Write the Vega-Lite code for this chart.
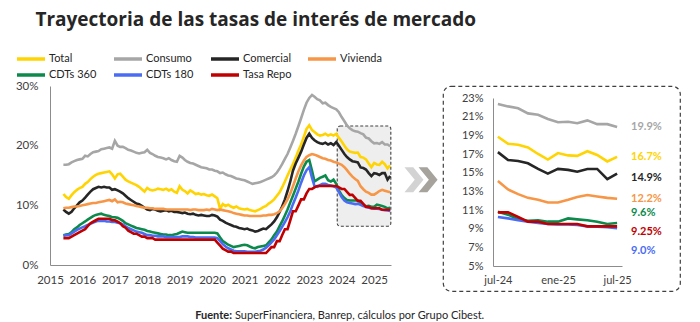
{
"$schema": "https://vega.github.io/schema/vega-lite/v6.json",
"background": "white",
"padding": {"left": 15, "top": 11, "right": 5, "bottom": 0},
"title": {"text": "Trayectoria de las tasas de interés de mercado", "anchor": "start", "font": "Open Sans", "fontSize": 19, "fontWeight": "bold", "color": "#262626", "dx": 20, "offset": 20},
"datasets": {
"tasas": [
{"fecha":"2015-06-01","Total":11.9,"Consumo":16.8,"Comercial":9.3,"Vivienda":9.5,"CDTs 360":5.0,"CDTs 180":4.9,"Tasa Repo":4.5},
{"fecha":"2015-07-01","Total":11.4,"Consumo":16.8,"Comercial":8.9,"Vivienda":9.6,"CDTs 360":5.1,"CDTs 180":5.0,"Tasa Repo":4.5},
{"fecha":"2015-08-01","Total":11.1,"Consumo":16.9,"Comercial":8.6,"Vivienda":9.6,"CDTs 360":5.2,"CDTs 180":5.0,"Tasa Repo":4.5},
{"fecha":"2015-09-01","Total":11.7,"Consumo":17.2,"Comercial":8.9,"Vivienda":9.7,"CDTs 360":5.5,"CDTs 180":5.3,"Tasa Repo":4.75},
{"fecha":"2015-10-01","Total":12.2,"Consumo":17.4,"Comercial":9.5,"Vivienda":9.8,"CDTs 360":6.0,"CDTs 180":5.6,"Tasa Repo":5.0},
{"fecha":"2015-11-01","Total":12.6,"Consumo":17.6,"Comercial":10.0,"Vivienda":9.8,"CDTs 360":6.3,"CDTs 180":5.9,"Tasa Repo":5.25},
{"fecha":"2015-12-01","Total":12.9,"Consumo":17.7,"Comercial":10.5,"Vivienda":9.9,"CDTs 360":6.7,"CDTs 180":6.1,"Tasa Repo":5.5},
{"fecha":"2016-01-01","Total":13.1,"Consumo":17.8,"Comercial":10.8,"Vivienda":10.0,"CDTs 360":7.0,"CDTs 180":6.3,"Tasa Repo":5.75},
{"fecha":"2016-02-01","Total":13.6,"Consumo":18.3,"Comercial":11.3,"Vivienda":10.1,"CDTs 360":7.3,"CDTs 180":6.5,"Tasa Repo":6.0},
{"fecha":"2016-03-01","Total":13.9,"Consumo":18.2,"Comercial":11.8,"Vivienda":10.2,"CDTs 360":7.6,"CDTs 180":6.7,"Tasa Repo":6.5},
{"fecha":"2016-04-01","Total":14.4,"Consumo":18.6,"Comercial":12.3,"Vivienda":10.3,"CDTs 360":7.9,"CDTs 180":6.9,"Tasa Repo":7.0},
{"fecha":"2016-05-01","Total":14.8,"Consumo":18.9,"Comercial":12.7,"Vivienda":10.4,"CDTs 360":8.2,"CDTs 180":7.1,"Tasa Repo":7.25},
{"fecha":"2016-06-01","Total":15.1,"Consumo":19.0,"Comercial":12.9,"Vivienda":10.4,"CDTs 360":8.4,"CDTs 180":7.3,"Tasa Repo":7.5},
{"fecha":"2016-07-01","Total":15.3,"Consumo":19.1,"Comercial":13.1,"Vivienda":10.5,"CDTs 360":8.5,"CDTs 180":7.4,"Tasa Repo":7.75},
{"fecha":"2016-08-01","Total":15.4,"Consumo":19.4,"Comercial":13.0,"Vivienda":10.6,"CDTs 360":8.6,"CDTs 180":7.4,"Tasa Repo":7.75},
{"fecha":"2016-09-01","Total":15.5,"Consumo":19.5,"Comercial":13.1,"Vivienda":10.7,"CDTs 360":8.4,"CDTs 180":7.4,"Tasa Repo":7.75},
{"fecha":"2016-10-01","Total":15.6,"Consumo":19.6,"Comercial":13.0,"Vivienda":10.8,"CDTs 360":8.3,"CDTs 180":7.3,"Tasa Repo":7.75},
{"fecha":"2016-11-01","Total":15.7,"Consumo":19.7,"Comercial":13.0,"Vivienda":10.9,"CDTs 360":8.2,"CDTs 180":7.3,"Tasa Repo":7.75},
{"fecha":"2016-12-01","Total":15.2,"Consumo":19.5,"Comercial":12.6,"Vivienda":10.7,"CDTs 360":8.0,"CDTs 180":7.2,"Tasa Repo":7.5},
{"fecha":"2017-01-01","Total":14.5,"Consumo":20.8,"Comercial":12.7,"Vivienda":11.0,"CDTs 360":8.0,"CDTs 180":7.2,"Tasa Repo":7.5},
{"fecha":"2017-02-01","Total":15.2,"Consumo":20.0,"Comercial":12.5,"Vivienda":10.5,"CDTs 360":7.9,"CDTs 180":7.1,"Tasa Repo":7.25},
{"fecha":"2017-03-01","Total":15.3,"Consumo":19.8,"Comercial":12.3,"Vivienda":10.6,"CDTs 360":7.7,"CDTs 180":7.0,"Tasa Repo":7.0},
{"fecha":"2017-04-01","Total":14.8,"Consumo":19.8,"Comercial":12.0,"Vivienda":10.5,"CDTs 360":7.4,"CDTs 180":6.8,"Tasa Repo":6.5},
{"fecha":"2017-05-01","Total":14.3,"Consumo":19.6,"Comercial":11.6,"Vivienda":10.3,"CDTs 360":7.0,"CDTs 180":6.5,"Tasa Repo":6.25},
{"fecha":"2017-06-01","Total":14.0,"Consumo":19.3,"Comercial":11.2,"Vivienda":10.2,"CDTs 360":6.8,"CDTs 180":6.2,"Tasa Repo":5.75},
{"fecha":"2017-07-01","Total":13.8,"Consumo":19.2,"Comercial":10.9,"Vivienda":10.1,"CDTs 360":6.6,"CDTs 180":6.0,"Tasa Repo":5.5},
{"fecha":"2017-08-01","Total":13.6,"Consumo":19.0,"Comercial":10.6,"Vivienda":10.0,"CDTs 360":6.4,"CDTs 180":5.8,"Tasa Repo":5.25},
{"fecha":"2017-09-01","Total":13.4,"Consumo":18.8,"Comercial":10.3,"Vivienda":9.9,"CDTs 360":6.2,"CDTs 180":5.6,"Tasa Repo":5.25},
{"fecha":"2017-10-01","Total":13.1,"Consumo":18.7,"Comercial":10.2,"Vivienda":9.8,"CDTs 360":6.1,"CDTs 180":5.5,"Tasa Repo":5.0},
{"fecha":"2017-11-01","Total":12.7,"Consumo":18.8,"Comercial":9.9,"Vivienda":9.7,"CDTs 360":6.0,"CDTs 180":5.4,"Tasa Repo":4.75},
{"fecha":"2017-12-01","Total":12.3,"Consumo":18.9,"Comercial":9.6,"Vivienda":9.6,"CDTs 360":5.9,"CDTs 180":5.2,"Tasa Repo":4.75},
{"fecha":"2018-01-01","Total":12.9,"Consumo":19.3,"Comercial":9.3,"Vivienda":9.6,"CDTs 360":5.7,"CDTs 180":5.0,"Tasa Repo":4.5},
{"fecha":"2018-02-01","Total":12.6,"Consumo":18.8,"Comercial":9.2,"Vivienda":9.5,"CDTs 360":5.6,"CDTs 180":5.0,"Tasa Repo":4.5},
{"fecha":"2018-03-01","Total":12.5,"Consumo":18.6,"Comercial":9.4,"Vivienda":9.5,"CDTs 360":5.5,"CDTs 180":4.9,"Tasa Repo":4.5},
{"fecha":"2018-04-01","Total":12.6,"Consumo":18.3,"Comercial":9.3,"Vivienda":9.4,"CDTs 360":5.4,"CDTs 180":4.9,"Tasa Repo":4.25},
{"fecha":"2018-05-01","Total":12.8,"Consumo":18.1,"Comercial":9.1,"Vivienda":9.4,"CDTs 360":5.3,"CDTs 180":4.8,"Tasa Repo":4.25},
{"fecha":"2018-06-01","Total":12.7,"Consumo":18.0,"Comercial":9.0,"Vivienda":9.4,"CDTs 360":5.2,"CDTs 180":4.8,"Tasa Repo":4.25},
{"fecha":"2018-07-01","Total":12.6,"Consumo":17.9,"Comercial":9.1,"Vivienda":9.4,"CDTs 360":5.1,"CDTs 180":4.8,"Tasa Repo":4.25},
{"fecha":"2018-08-01","Total":12.8,"Consumo":17.7,"Comercial":9.2,"Vivienda":9.3,"CDTs 360":5.1,"CDTs 180":4.7,"Tasa Repo":4.25},
{"fecha":"2018-09-01","Total":12.5,"Consumo":17.9,"Comercial":9.0,"Vivienda":9.3,"CDTs 360":5.0,"CDTs 180":4.7,"Tasa Repo":4.25},
{"fecha":"2018-10-01","Total":12.7,"Consumo":17.6,"Comercial":9.1,"Vivienda":9.3,"CDTs 360":5.0,"CDTs 180":4.7,"Tasa Repo":4.25},
{"fecha":"2018-11-01","Total":12.3,"Consumo":17.4,"Comercial":8.9,"Vivienda":9.3,"CDTs 360":5.1,"CDTs 180":4.7,"Tasa Repo":4.25},
{"fecha":"2018-12-01","Total":12.1,"Consumo":17.3,"Comercial":8.9,"Vivienda":9.3,"CDTs 360":5.2,"CDTs 180":4.7,"Tasa Repo":4.25},
{"fecha":"2019-01-01","Total":13.2,"Consumo":18.3,"Comercial":8.8,"Vivienda":9.3,"CDTs 360":5.4,"CDTs 180":4.7,"Tasa Repo":4.25},
{"fecha":"2019-02-01","Total":12.6,"Consumo":18.0,"Comercial":8.7,"Vivienda":9.3,"CDTs 360":5.6,"CDTs 180":4.8,"Tasa Repo":4.25},
{"fecha":"2019-03-01","Total":12.4,"Consumo":17.6,"Comercial":8.8,"Vivienda":9.3,"CDTs 360":5.5,"CDTs 180":4.8,"Tasa Repo":4.25},
{"fecha":"2019-04-01","Total":12.0,"Consumo":17.3,"Comercial":8.6,"Vivienda":9.3,"CDTs 360":5.4,"CDTs 180":4.8,"Tasa Repo":4.25},
{"fecha":"2019-05-01","Total":12.5,"Consumo":17.1,"Comercial":8.5,"Vivienda":9.2,"CDTs 360":5.4,"CDTs 180":4.7,"Tasa Repo":4.25},
{"fecha":"2019-06-01","Total":12.2,"Consumo":17.0,"Comercial":8.6,"Vivienda":9.3,"CDTs 360":5.4,"CDTs 180":4.7,"Tasa Repo":4.25},
{"fecha":"2019-07-01","Total":11.9,"Consumo":16.8,"Comercial":8.4,"Vivienda":9.3,"CDTs 360":5.4,"CDTs 180":4.6,"Tasa Repo":4.25},
{"fecha":"2019-08-01","Total":12.0,"Consumo":16.6,"Comercial":8.3,"Vivienda":9.2,"CDTs 360":5.4,"CDTs 180":4.6,"Tasa Repo":4.25},
{"fecha":"2019-09-01","Total":11.8,"Consumo":16.4,"Comercial":8.4,"Vivienda":9.2,"CDTs 360":5.4,"CDTs 180":4.6,"Tasa Repo":4.25},
{"fecha":"2019-10-01","Total":11.9,"Consumo":16.3,"Comercial":8.3,"Vivienda":9.2,"CDTs 360":5.4,"CDTs 180":4.6,"Tasa Repo":4.25},
{"fecha":"2019-11-01","Total":11.7,"Consumo":16.2,"Comercial":8.2,"Vivienda":9.3,"CDTs 360":5.4,"CDTs 180":4.6,"Tasa Repo":4.25},
{"fecha":"2019-12-01","Total":11.6,"Consumo":16.0,"Comercial":8.2,"Vivienda":9.2,"CDTs 360":5.4,"CDTs 180":4.6,"Tasa Repo":4.25},
{"fecha":"2020-01-01","Total":11.8,"Consumo":16.0,"Comercial":8.4,"Vivienda":9.4,"CDTs 360":5.4,"CDTs 180":4.6,"Tasa Repo":4.25},
{"fecha":"2020-02-01","Total":11.5,"Consumo":15.8,"Comercial":8.3,"Vivienda":9.3,"CDTs 360":5.4,"CDTs 180":4.6,"Tasa Repo":4.25},
{"fecha":"2020-03-01","Total":11.2,"Consumo":15.7,"Comercial":8.1,"Vivienda":9.2,"CDTs 360":5.3,"CDTs 180":4.5,"Tasa Repo":3.75},
{"fecha":"2020-04-01","Total":9.4,"Consumo":15.4,"Comercial":7.6,"Vivienda":9.3,"CDTs 360":4.6,"CDTs 180":4.0,"Tasa Repo":3.25},
{"fecha":"2020-05-01","Total":10.2,"Consumo":15.5,"Comercial":7.4,"Vivienda":9.2,"CDTs 360":4.0,"CDTs 180":3.5,"Tasa Repo":2.75},
{"fecha":"2020-06-01","Total":9.9,"Consumo":15.2,"Comercial":7.1,"Vivienda":9.1,"CDTs 360":3.7,"CDTs 180":3.1,"Tasa Repo":2.5},
{"fecha":"2020-07-01","Total":10.1,"Consumo":15.0,"Comercial":6.9,"Vivienda":9.0,"CDTs 360":3.4,"CDTs 180":2.8,"Tasa Repo":2.25},
{"fecha":"2020-08-01","Total":9.8,"Consumo":14.9,"Comercial":6.7,"Vivienda":8.9,"CDTs 360":3.2,"CDTs 180":2.6,"Tasa Repo":2.25},
{"fecha":"2020-09-01","Total":9.6,"Consumo":14.7,"Comercial":6.5,"Vivienda":8.7,"CDTs 360":3.0,"CDTs 180":2.4,"Tasa Repo":2.0},
{"fecha":"2020-10-01","Total":9.8,"Consumo":14.5,"Comercial":6.4,"Vivienda":8.6,"CDTs 360":3.1,"CDTs 180":2.3,"Tasa Repo":2.0},
{"fecha":"2020-11-01","Total":9.5,"Consumo":14.4,"Comercial":6.2,"Vivienda":8.5,"CDTs 360":3.2,"CDTs 180":2.3,"Tasa Repo":2.0},
{"fecha":"2020-12-01","Total":9.4,"Consumo":14.3,"Comercial":6.1,"Vivienda":8.4,"CDTs 360":3.3,"CDTs 180":2.3,"Tasa Repo":2.0},
{"fecha":"2021-01-01","Total":9.3,"Consumo":14.2,"Comercial":6.0,"Vivienda":8.3,"CDTs 360":3.4,"CDTs 180":2.3,"Tasa Repo":2.0},
{"fecha":"2021-02-01","Total":9.4,"Consumo":14.0,"Comercial":6.1,"Vivienda":8.3,"CDTs 360":3.3,"CDTs 180":2.2,"Tasa Repo":2.0},
{"fecha":"2021-03-01","Total":9.2,"Consumo":13.8,"Comercial":5.9,"Vivienda":8.2,"CDTs 360":3.1,"CDTs 180":2.2,"Tasa Repo":2.0},
{"fecha":"2021-04-01","Total":9.1,"Consumo":13.6,"Comercial":5.8,"Vivienda":8.2,"CDTs 360":2.9,"CDTs 180":2.2,"Tasa Repo":2.0},
{"fecha":"2021-05-01","Total":9.0,"Consumo":13.7,"Comercial":5.6,"Vivienda":8.2,"CDTs 360":2.8,"CDTs 180":2.2,"Tasa Repo":2.0},
{"fecha":"2021-06-01","Total":9.2,"Consumo":13.8,"Comercial":5.7,"Vivienda":8.2,"CDTs 360":3.0,"CDTs 180":2.3,"Tasa Repo":2.0},
{"fecha":"2021-07-01","Total":9.4,"Consumo":13.9,"Comercial":5.9,"Vivienda":8.2,"CDTs 360":3.1,"CDTs 180":2.4,"Tasa Repo":2.0},
{"fecha":"2021-08-01","Total":9.7,"Consumo":14.1,"Comercial":6.1,"Vivienda":8.3,"CDTs 360":3.2,"CDTs 180":2.6,"Tasa Repo":2.0},
{"fecha":"2021-09-01","Total":9.9,"Consumo":14.3,"Comercial":6.0,"Vivienda":8.3,"CDTs 360":3.3,"CDTs 180":2.9,"Tasa Repo":2.0},
{"fecha":"2021-10-01","Total":10.3,"Consumo":14.5,"Comercial":6.4,"Vivienda":8.4,"CDTs 360":3.8,"CDTs 180":3.3,"Tasa Repo":2.5},
{"fecha":"2021-11-01","Total":10.6,"Consumo":14.7,"Comercial":6.8,"Vivienda":8.4,"CDTs 360":4.3,"CDTs 180":3.8,"Tasa Repo":3.0},
{"fecha":"2021-12-01","Total":11.0,"Consumo":15.0,"Comercial":7.3,"Vivienda":8.5,"CDTs 360":5.0,"CDTs 180":4.3,"Tasa Repo":3.0},
{"fecha":"2022-01-01","Total":11.6,"Consumo":15.5,"Comercial":8.0,"Vivienda":8.7,"CDTs 360":5.6,"CDTs 180":5.0,"Tasa Repo":4.0},
{"fecha":"2022-02-01","Total":12.2,"Consumo":16.2,"Comercial":8.9,"Vivienda":9.0,"CDTs 360":6.5,"CDTs 180":5.7,"Tasa Repo":4.0},
{"fecha":"2022-03-01","Total":13.0,"Consumo":16.9,"Comercial":9.8,"Vivienda":9.5,"CDTs 360":7.3,"CDTs 180":6.4,"Tasa Repo":5.0},
{"fecha":"2022-04-01","Total":14.0,"Consumo":17.8,"Comercial":11.0,"Vivienda":10.2,"CDTs 360":8.3,"CDTs 180":7.2,"Tasa Repo":6.0},
{"fecha":"2022-05-01","Total":15.0,"Consumo":18.6,"Comercial":12.4,"Vivienda":11.0,"CDTs 360":9.3,"CDTs 180":8.0,"Tasa Repo":6.0},
{"fecha":"2022-06-01","Total":16.0,"Consumo":19.7,"Comercial":14.0,"Vivienda":12.0,"CDTs 360":10.5,"CDTs 180":9.0,"Tasa Repo":7.5},
{"fecha":"2022-07-01","Total":16.9,"Consumo":20.8,"Comercial":15.8,"Vivienda":13.2,"CDTs 360":11.6,"CDTs 180":10.2,"Tasa Repo":9.0},
{"fecha":"2022-08-01","Total":18.0,"Consumo":22.0,"Comercial":17.0,"Vivienda":14.5,"CDTs 360":12.8,"CDTs 180":11.3,"Tasa Repo":9.0},
{"fecha":"2022-09-01","Total":19.2,"Consumo":23.3,"Comercial":18.0,"Vivienda":15.7,"CDTs 360":14.0,"CDTs 180":12.5,"Tasa Repo":10.0},
{"fecha":"2022-10-01","Total":20.2,"Consumo":24.6,"Comercial":19.0,"Vivienda":16.7,"CDTs 360":15.3,"CDTs 180":13.8,"Tasa Repo":11.0},
{"fecha":"2022-11-01","Total":21.5,"Consumo":26.0,"Comercial":20.2,"Vivienda":17.5,"CDTs 360":16.5,"CDTs 180":15.0,"Tasa Repo":11.0},
{"fecha":"2022-12-01","Total":22.8,"Consumo":27.2,"Comercial":21.3,"Vivienda":18.1,"CDTs 360":17.3,"CDTs 180":15.9,"Tasa Repo":12.0},
{"fecha":"2023-01-01","Total":23.4,"Consumo":28.0,"Comercial":22.0,"Vivienda":18.4,"CDTs 360":17.6,"CDTs 180":16.4,"Tasa Repo":12.75},
{"fecha":"2023-02-01","Total":22.6,"Consumo":28.5,"Comercial":21.3,"Vivienda":18.6,"CDTs 360":15.8,"CDTs 180":14.6,"Tasa Repo":12.75},
{"fecha":"2023-03-01","Total":22.3,"Consumo":28.2,"Comercial":20.9,"Vivienda":18.5,"CDTs 360":14.0,"CDTs 180":13.2,"Tasa Repo":13.0},
{"fecha":"2023-04-01","Total":21.9,"Consumo":27.8,"Comercial":20.6,"Vivienda":18.3,"CDTs 360":14.3,"CDTs 180":13.1,"Tasa Repo":13.25},
{"fecha":"2023-05-01","Total":21.7,"Consumo":27.6,"Comercial":20.4,"Vivienda":18.1,"CDTs 360":14.6,"CDTs 180":13.4,"Tasa Repo":13.25},
{"fecha":"2023-06-01","Total":21.8,"Consumo":27.1,"Comercial":20.3,"Vivienda":17.9,"CDTs 360":14.8,"CDTs 180":13.6,"Tasa Repo":13.25},
{"fecha":"2023-07-01","Total":22.0,"Consumo":27.2,"Comercial":20.5,"Vivienda":17.8,"CDTs 360":15.0,"CDTs 180":13.6,"Tasa Repo":13.25},
{"fecha":"2023-08-01","Total":21.7,"Consumo":26.8,"Comercial":20.2,"Vivienda":17.6,"CDTs 360":14.2,"CDTs 180":13.4,"Tasa Repo":13.25},
{"fecha":"2023-09-01","Total":21.9,"Consumo":26.5,"Comercial":20.4,"Vivienda":17.5,"CDTs 360":14.0,"CDTs 180":13.3,"Tasa Repo":13.25},
{"fecha":"2023-10-01","Total":21.7,"Consumo":26.3,"Comercial":20.1,"Vivienda":17.3,"CDTs 360":14.3,"CDTs 180":13.2,"Tasa Repo":13.25},
{"fecha":"2023-11-01","Total":22.0,"Consumo":26.1,"Comercial":20.6,"Vivienda":17.2,"CDTs 360":13.6,"CDTs 180":13.0,"Tasa Repo":13.25},
{"fecha":"2023-12-01","Total":21.3,"Consumo":25.6,"Comercial":20.0,"Vivienda":17.0,"CDTs 360":12.5,"CDTs 180":12.2,"Tasa Repo":13.0},
{"fecha":"2024-01-01","Total":20.7,"Consumo":24.8,"Comercial":19.3,"Vivienda":16.8,"CDTs 360":11.7,"CDTs 180":11.4,"Tasa Repo":12.75},
{"fecha":"2024-02-01","Total":20.0,"Consumo":24.1,"Comercial":18.6,"Vivienda":16.4,"CDTs 360":11.2,"CDTs 180":10.8,"Tasa Repo":12.75},
{"fecha":"2024-03-01","Total":19.4,"Consumo":23.4,"Comercial":18.1,"Vivienda":15.9,"CDTs 360":10.9,"CDTs 180":10.5,"Tasa Repo":12.25},
{"fecha":"2024-04-01","Total":19.0,"Consumo":22.9,"Comercial":17.7,"Vivienda":15.3,"CDTs 360":10.8,"CDTs 180":10.4,"Tasa Repo":11.75},
{"fecha":"2024-05-01","Total":18.9,"Consumo":22.6,"Comercial":17.4,"Vivienda":14.8,"CDTs 360":10.8,"CDTs 180":10.3,"Tasa Repo":11.75},
{"fecha":"2024-06-01","Total":18.8,"Consumo":22.4,"Comercial":17.3,"Vivienda":14.4,"CDTs 360":10.8,"CDTs 180":10.2,"Tasa Repo":11.25},
{"fecha":"2024-07-01","Total":18.85,"Consumo":22.35,"Comercial":17.2,"Vivienda":14.1,"CDTs 360":10.8,"CDTs 180":10.25,"Tasa Repo":10.75},
{"fecha":"2024-08-01","Total":18.1,"Consumo":22.1,"Comercial":16.35,"Vivienda":13.2,"CDTs 360":10.5,"CDTs 180":10.1,"Tasa Repo":10.75},
{"fecha":"2024-09-01","Total":18.0,"Consumo":21.9,"Comercial":16.25,"Vivienda":12.7,"CDTs 360":10.0,"CDTs 180":9.9,"Tasa Repo":10.25},
{"fecha":"2024-10-01","Total":17.7,"Consumo":21.35,"Comercial":16.0,"Vivienda":12.3,"CDTs 360":9.85,"CDTs 180":9.75,"Tasa Repo":9.75},
{"fecha":"2024-11-01","Total":17.0,"Consumo":21.2,"Comercial":15.4,"Vivienda":12.1,"CDTs 360":9.9,"CDTs 180":9.6,"Tasa Repo":9.75},
{"fecha":"2024-12-01","Total":16.4,"Consumo":20.75,"Comercial":14.9,"Vivienda":11.8,"CDTs 360":9.75,"CDTs 180":9.5,"Tasa Repo":9.5},
{"fecha":"2025-01-01","Total":17.1,"Consumo":20.4,"Comercial":15.4,"Vivienda":11.8,"CDTs 360":9.75,"CDTs 180":9.45,"Tasa Repo":9.5},
{"fecha":"2025-02-01","Total":16.85,"Consumo":20.45,"Comercial":15.3,"Vivienda":12.1,"CDTs 360":10.1,"CDTs 180":9.45,"Tasa Repo":9.5},
{"fecha":"2025-03-01","Total":16.8,"Consumo":20.3,"Comercial":15.1,"Vivienda":12.4,"CDTs 360":10.0,"CDTs 180":9.4,"Tasa Repo":9.5},
{"fecha":"2025-04-01","Total":17.3,"Consumo":20.6,"Comercial":15.4,"Vivienda":12.6,"CDTs 360":9.9,"CDTs 180":9.25,"Tasa Repo":9.25},
{"fecha":"2025-05-01","Total":16.9,"Consumo":20.2,"Comercial":15.4,"Vivienda":12.45,"CDTs 360":9.75,"CDTs 180":9.2,"Tasa Repo":9.25},
{"fecha":"2025-06-01","Total":16.2,"Consumo":20.2,"Comercial":14.3,"Vivienda":12.3,"CDTs 360":9.5,"CDTs 180":9.15,"Tasa Repo":9.25},
{"fecha":"2025-07-01","Total":16.7,"Consumo":19.9,"Comercial":14.9,"Vivienda":12.2,"CDTs 360":9.6,"CDTs 180":9.05,"Tasa Repo":9.25}
],
"etiquetas": [
{"serie":"Consumo","fecha":"2025-07-01","valor":19.9,"texto":"19.9%"},
{"serie":"Total","fecha":"2025-07-01","valor":16.7,"texto":"16.7%"},
{"serie":"Comercial","fecha":"2025-07-01","valor":14.9,"texto":"14.9%"},
{"serie":"Vivienda","fecha":"2025-07-01","valor":12.2,"texto":"12.2%"},
{"serie":"CDTs 360","fecha":"2025-07-01","valor":9.6,"texto":"9.6%"},
{"serie":"Tasa Repo","fecha":"2025-07-01","valor":9.25,"texto":"9.25%"},
{"serie":"CDTs 180","fecha":"2025-07-01","valor":9.05,"texto":"9.0%"}
]
},
"vconcat": [
{
"hconcat": [
{
"width": 341,
"height": 179,
"layer": [
{
"data": {"values": [{}]},
"mark": {"type": "rect", "fill": "#D9D9D9", "fillOpacity": 0.45, "stroke": "#404040", "strokeDash": [3, 2], "strokeWidth": 1.1, "cornerRadius": 3},
"encoding": {
"x": {"datum": {"year": 2023, "month": 11, "date": 12}, "type": "temporal"},
"x2": {"datum": {"year": 2025, "month": 7, "date": 8}},
"y": {"datum": 23.3, "type": "quantitative"},
"y2": {"datum": 6.5}
}
},
{
"data": {"name": "tasas"},
"transform": [{"fold": ["Total", "Consumo", "Comercial", "Vivienda", "CDTs 360", "CDTs 180", "Tasa Repo"], "as": ["serie", "valor"]}],
"mark": {"type": "line", "strokeWidth": 2.6},
"encoding": {
"x": {"field": "fecha", "type": "temporal", "title": null,
"scale": {"domain": [{"year": 2015, "month": 1, "date": 1}, {"year": 2025, "month": 7, "date": 10}]},
"axis": {"format": "%Y", "tickCount": {"interval": "year", "step": 1}, "labelPadding": 9, "labelFontSize": 11.5, "labelFlush": false, "labelOverlap": false}},
"y": {"field": "valor", "type": "quantitative", "title": null,
"scale": {"domain": [0, 30], "nice": false},
"axis": {"values": [0, 5, 10, 15, 20, 25, 30], "labelExpr": "datum.value + '%'", "labelPadding": 12, "labelFontSize": 11.5, "labelOverlap": false}},
"color": {"field": "serie", "type": "nominal",
"legend": {"title": null, "orient": "none", "legendX": -28, "legendY": -36},
"scale": {"domain": ["Total", "Consumo", "Comercial", "Vivienda", "CDTs 360", "CDTs 180", "Tasa Repo"],
"range": ["#FFD400", "#A6A6A6", "#262626", "#F79646", "#0B8A4C", "#4A6CF5", "#C00000"]}}
}
},
{
"data": {"values": [{}]},
"mark": {"type": "point", "shape": "M-0.76,-1L-0.06,-1L0.76,0L-0.06,1L-0.76,1L0.06,0Z", "filled": true, "size": 625, "color": "#D3D3D3", "opacity": 1, "strokeWidth": 0},
"encoding": {
"x": {"datum": {"year": 2026, "month": 3, "date": 26}, "type": "temporal"},
"y": {"datum": 14.3, "type": "quantitative"}
}
},
{
"data": {"values": [{}]},
"mark": {"type": "point", "shape": "M-0.76,-1L-0.06,-1L0.76,0L-0.06,1L-0.76,1L0.06,0Z", "filled": true, "size": 625, "color": "#A6A29C", "opacity": 1, "strokeWidth": 0},
"encoding": {
"x": {"datum": {"year": 2026, "month": 9, "date": 1}, "type": "temporal"},
"y": {"datum": 14.3, "type": "quantitative"}
}
}
]
},
{
"width": 237,
"height": 205,
"view": {"stroke": "#404040", "strokeDash": [4, 3], "strokeWidth": 1.2, "cornerRadius": 8},
"encoding": {
"x": {"field": "fecha", "type": "temporal", "title": null,
"scale": {"domain": [{"year": 2024, "month": 6, "date": 16}, {"year": 2025, "month": 7, "date": 16}], "range": [50, 179]},
"axis": {"values": [{"year": 2024, "month": 7, "date": 1}, {"year": 2025, "month": 1, "date": 1}, {"year": 2025, "month": 7, "date": 1}],
"labelExpr": "['ene','feb','mar','abr','may','jun','jul','ago','sep','oct','nov','dic'][month(datum.value)] + '-' + timeFormat(datum.value, '%y')",
"offset": -25, "labelPadding": 8, "labelFlush": false, "labelOverlap": false}},
"y": {"field": "valor", "type": "quantitative", "title": null,
"scale": {"domain": [5, 23], "nice": false, "zero": false, "range": [180, 12]},
"axis": {"values": [5, 7, 9, 11, 13, 15, 17, 19, 21, 23], "labelExpr": "datum.value + '%'", "offset": -50, "labelPadding": 10, "labelOverlap": false, "labelFlush": false, "labelSeparation": 0}},
"color": {"field": "serie", "type": "nominal"}
},
"layer": [
{
"data": {"name": "tasas"},
"transform": [
{"filter": {"field": "fecha", "timeUnit": "yearmonth", "gte": {"year": 2024, "month": 7}}},
{"fold": ["Total", "Consumo", "Comercial", "Vivienda", "CDTs 360", "CDTs 180", "Tasa Repo"], "as": ["serie", "valor"]}
],
"mark": {"type": "line", "strokeWidth": 2.6}
},
{
"data": {"name": "etiquetas"},
"transform": [{"filter": {"field": "serie", "oneOf": ["Consumo", "Total", "Vivienda"]}}],
"mark": {"type": "text", "align": "left", "dx": 14, "font": "Lato", "fontWeight": "bold", "fontSize": 11},
"encoding": {"text": {"field": "texto"}}
},
{
"data": {"name": "etiquetas"},
"transform": [{"filter": {"field": "serie", "equal": "Comercial"}}],
"mark": {"type": "text", "align": "left", "dx": 14, "dy": 4.5, "font": "Lato", "fontWeight": "bold", "fontSize": 11},
"encoding": {"text": {"field": "texto"}}
},
{
"data": {"name": "etiquetas"},
"transform": [{"filter": {"field": "serie", "equal": "CDTs 360"}}],
"mark": {"type": "text", "align": "left", "dx": 14, "dy": -10, "font": "Lato", "fontWeight": "bold", "fontSize": 11},
"encoding": {"text": {"field": "texto"}}
},
{
"data": {"name": "etiquetas"},
"transform": [{"filter": {"field": "serie", "equal": "Tasa Repo"}}],
"mark": {"type": "text", "align": "left", "dx": 14, "dy": 6, "font": "Lato", "fontWeight": "bold", "fontSize": 11},
"encoding": {"text": {"field": "texto"}}
},
{
"data": {"name": "etiquetas"},
"transform": [{"filter": {"field": "serie", "equal": "CDTs 180"}}],
"mark": {"type": "text", "align": "left", "dx": 14, "dy": 23, "font": "Lato", "fontWeight": "bold", "fontSize": 11},
"encoding": {"text": {"field": "texto"}}
}
]
}
],
"spacing": 4
},
{
"width": 366,
"height": 8,
"data": {"values": [{}]},
"layer": [
{"mark": {"type": "text", "text": "Fuente:", "align": "right", "dx": -1, "font": "Lato", "fontWeight": "bold", "fontSize": 11, "color": "#262626"}, "encoding": {}},
{"mark": {"type": "text", "text": "SuperFinanciera, Banrep, cálculos por Grupo Cibest.", "align": "left", "dx": 2, "font": "Lato", "fontSize": 11, "color": "#262626"}, "encoding": {}}
]
}
],
"spacing": 18,
"resolve": {"scale": {"color": "shared"}},
"config": {
"view": {"stroke": null},
"font": "Lato",
"axis": {"labelFont": "Lato", "labelFontSize": 11, "labelColor": "#404040", "domainColor": "#8C8C8C", "domainWidth": 1, "ticks": false, "tickSize": 0, "grid": false},
"legend": {"columns": 4, "direction": "horizontal", "symbolType": "M-2,0H2", "symbolSize": 196, "symbolStrokeWidth": 3.5, "labelFont": "Lato", "labelFontSize": 11, "labelColor": "#262626", "labelOffset": 9, "columnPadding": 9, "rowPadding": 0, "gridAlign": "all", "padding": 0}
}
}
